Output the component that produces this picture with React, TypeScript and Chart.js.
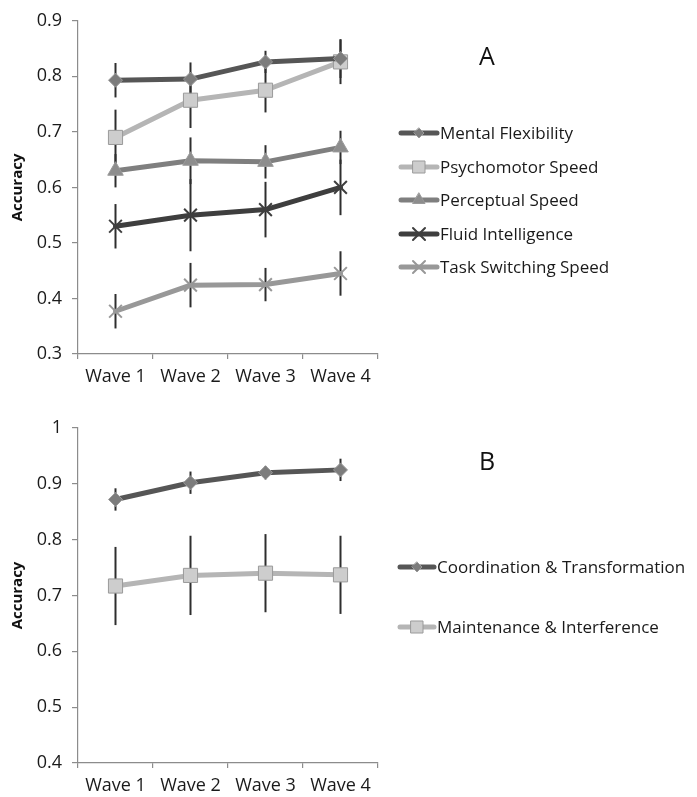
import React, { useEffect, useRef } from "react";
import { Chart, registerables } from "chart.js";

Chart.register(...registerables);

// ---------- data ----------
const waves = ["Wave 1", "Wave 2", "Wave 3", "Wave 4"];

// Panel A
const mentalFlexibility = [0.793, 0.795, 0.826, 0.832];
const mentalFlexibilityErr = [0.031, 0.03, 0.02, 0.035];
const psychomotorSpeed = [0.69, 0.757, 0.775, 0.826];
const psychomotorSpeedErr = [0.05, 0.05, 0.04, 0.04];
const perceptualSpeed = [0.63, 0.648, 0.646, 0.672];
const perceptualSpeedErr = [0.03, 0.042, 0.03, 0.03];
const fluidIntelligence = [0.53, 0.55, 0.56, 0.6];
const fluidIntelligenceErr = [0.04, 0.065, 0.05, 0.05];
const taskSwitchingSpeed = [0.377, 0.424, 0.425, 0.445];
const taskSwitchingSpeedErr = [0.031, 0.04, 0.03, 0.04];

// Panel B
const coordinationTransformation = [0.872, 0.902, 0.92, 0.925];
const coordinationTransformationErr = [0.02, 0.02, 0.012, 0.02];
const maintenanceInterference = [0.717, 0.736, 0.74, 0.737];
const maintenanceInterferenceErr = [0.07, 0.071, 0.07, 0.07];

const yRangeA = { min: 0.3, max: 0.9, step: 0.1 };
const yRangeB = { min: 0.4, max: 1.0, step: 0.1 };

const FONT = "'Open Sans', sans-serif";

// ---------- helpers ----------
function drawMarker(ctx: CanvasRenderingContext2D, style: string, x: number, y: number, r: number, fill: string, stroke: string, lw: number) {
  ctx.save();
  ctx.beginPath();
  ctx.lineWidth = lw;
  ctx.fillStyle = fill;
  ctx.strokeStyle = stroke;
  if (style === "rectRot") {
    ctx.moveTo(x, y - r);
    ctx.lineTo(x + r, y);
    ctx.lineTo(x, y + r);
    ctx.lineTo(x - r, y);
    ctx.closePath();
    ctx.fill();
    ctx.stroke();
  } else if (style === "rect") {
    const s = r * Math.SQRT1_2;
    ctx.rect(x - s, y - s, 2 * s, 2 * s);
    ctx.fill();
    ctx.stroke();
  } else if (style === "triangle") {
    ctx.moveTo(x, y - r);
    ctx.lineTo(x + 0.866 * r, y + 0.5 * r);
    ctx.lineTo(x - 0.866 * r, y + 0.5 * r);
    ctx.closePath();
    ctx.fill();
    ctx.stroke();
  } else if (style === "crossRot") {
    const d = r * Math.SQRT1_2;
    ctx.moveTo(x - d, y - d);
    ctx.lineTo(x + d, y + d);
    ctx.moveTo(x + d, y - d);
    ctx.lineTo(x - d, y + d);
    ctx.stroke();
  }
  ctx.restore();
}

const errorBarPlugin = {
  id: "errorBars",
  beforeDatasetsDraw(chart: any) {
    const ctx = chart.ctx;
    const yScale = chart.scales.y;
    ctx.save();
    ctx.strokeStyle = "#2e2e2e";
    ctx.lineWidth = 2;
    chart.data.datasets.forEach((ds: any, di: number) => {
      const meta = chart.getDatasetMeta(di);
      (ds.errors || []).forEach((e: number, i: number) => {
        const v = ds.data[i];
        const x = meta.data[i].x;
        ctx.beginPath();
        ctx.moveTo(x, yScale.getPixelForValue(v + e));
        ctx.lineTo(x, yScale.getPixelForValue(v - e));
        ctx.stroke();
      });
    });
    ctx.restore();
  },
};

const legendPlugin = {
  id: "sideLegend",
  afterDraw(chart: any, _args: any, opts: any) {
    const ctx = chart.ctx;
    ctx.save();
    chart.data.datasets.forEach((ds: any, i: number) => {
      const y = opts.rows[i];
      const x0 = opts.x;
      const x1 = opts.x + opts.lineLen;
      ctx.beginPath();
      ctx.strokeStyle = ds.borderColor;
      ctx.lineWidth = 5;
      ctx.lineCap = "round";
      ctx.moveTo(x0, y);
      ctx.lineTo(x1, y);
      ctx.stroke();
      const r = ds.legendRadius;
      drawMarker(ctx, ds.pointStyle, (x0 + x1) / 2, y, r, ds.pointBackgroundColor, ds.pointBorderColor, ds.pointBorderWidth);
      ctx.fillStyle = "#1a1a1a";
      ctx.font = `17px ${FONT}`;
      ctx.textAlign = "left";
      ctx.textBaseline = "middle";
      ctx.fillText(ds.label, x1 + 3, y + 1);
    });
    ctx.font = `25px ${FONT}`;
    ctx.fillStyle = "#111";
    ctx.textAlign = "center";
    ctx.textBaseline = "middle";
    ctx.fillText(opts.panel, opts.panelX, opts.panelY);
    ctx.restore();
  },
};

function ds(label: string, data: number[], errors: number[], line: string, fill: string, style: string, radius: number, legendRadius: number, bw: number) {
  return {
    label,
    data,
    errors,
    borderColor: line,
    backgroundColor: line,
    borderWidth: 5,
    borderJoinStyle: "round",
    borderCapStyle: "round",
    tension: 0,
    pointStyle: style,
    pointRadius: radius,
    pointBackgroundColor: fill,
    pointBorderColor: style === "crossRot" ? line : "#9a9a9a",
    pointBorderWidth: bw,
    legendRadius,
  } as any;
}

function makeConfig(datasets: any[], range: any, padTop: number, xHeight: number, legend: any) {
  return {
    type: "line",
    data: { labels: waves, datasets },
    plugins: [errorBarPlugin, legendPlugin],
    options: {
      responsive: false,
      animation: false,
      layout: { padding: { left: 0, right: 697 - 378, top: padTop, bottom: 0 } },
      plugins: {
        legend: { display: false },
        tooltip: { enabled: false },
        sideLegend: legend,
      },
      scales: {
        x: {
          offset: true,
          grid: { display: true, offset: true, drawOnChartArea: false, drawTicks: true, tickLength: 5, color: "#8c8c8c", lineWidth: 1.2 },
          border: { display: true, color: "#8c8c8c", width: 1.2 },
          ticks: { color: "#1a1a1a", font: { family: FONT, size: 18 }, padding: 7, maxRotation: 0 },
          afterFit: (s: any) => { s.height = xHeight; },
        },
        y: {
          min: range.min,
          max: range.max,
          grid: { display: true, drawOnChartArea: false, drawTicks: true, tickLength: 6, color: "#8c8c8c", lineWidth: 1.2 },
          border: { display: true, color: "#8c8c8c", width: 1.2 },
          ticks: {
            stepSize: range.step,
            color: "#1a1a1a",
            font: { family: FONT, size: 18 },
            padding: 10,
            callback: (v: any) => String(Number(Number(v).toFixed(1))),
          },
          title: {
            display: true,
            text: "Accuracy",
            color: "#111",
            font: { family: FONT, size: 15, weight: "bold" },
            padding: { top: 9, bottom: 0 },
          },
          afterFit: (s: any) => { s.width = 78; },
        },
      },
    },
  } as any;
}

function ChartCanvas({ config, width, height, top }: any) {
  const ref = useRef<HTMLCanvasElement>(null);
  useEffect(() => {
    const c = new Chart(ref.current as HTMLCanvasElement, config());
    return () => c.destroy();
  }, []);
  return (
    <canvas
      ref={ref}
      width={width}
      height={height}
      style={{ position: "absolute", left: 0, top, width, height, display: "block" }}
    />
  );
}

export default function App() {
  const configA = () =>
    makeConfig(
      [
        ds("Mental Flexibility", mentalFlexibility, mentalFlexibilityErr, "#565656", "#7c7c7c", "rectRot", 7, 5, 1),
        ds("Psychomotor Speed", psychomotorSpeed, psychomotorSpeedErr, "#b5b5b5", "#cdcdcd", "rect", 10, 8.5, 1),
        ds("Perceptual Speed", perceptualSpeed, perceptualSpeedErr, "#7f7f7f", "#8d8d8d", "triangle", 9, 7, 1),
        ds("Fluid Intelligence", fluidIntelligence, fluidIntelligenceErr, "#3e3e3e", "#3e3e3e", "crossRot", 9, 8.5, 2),
        ds("Task Switching Speed", taskSwitchingSpeed, taskSwitchingSpeedErr, "#989898", "#989898", "crossRot", 9, 8.5, 2),
      ],
      yRangeA,
      20,
      400 - 354,
      { x: 401, lineLen: 36, rows: [133, 167, 200, 234, 267], panel: "A", panelX: 487, panelY: 58 }
    );
  const configB = () =>
    makeConfig(
      [
        ds("Coordination & Transformation", coordinationTransformation, coordinationTransformationErr, "#565656", "#7c7c7c", "rectRot", 7, 5, 1),
        ds("Maintenance & Interference", maintenanceInterference, maintenanceInterferenceErr, "#b5b5b5", "#cdcdcd", "rect", 10, 8.5, 1),
      ],
      yRangeB,
      28,
      397 - 363,
      { x: 400, lineLen: 34, rows: [167, 227], panel: "B", panelX: 487, panelY: 63 }
    );
  return (
    <div style={{ position: "absolute", left: 0, top: 0, width: 697, height: 797, background: "#fff" }}>
      <ChartCanvas config={configA} width={697} height={400} top={0} />
      <ChartCanvas config={configB} width={697} height={397} top={400} />
    </div>
  );
}
